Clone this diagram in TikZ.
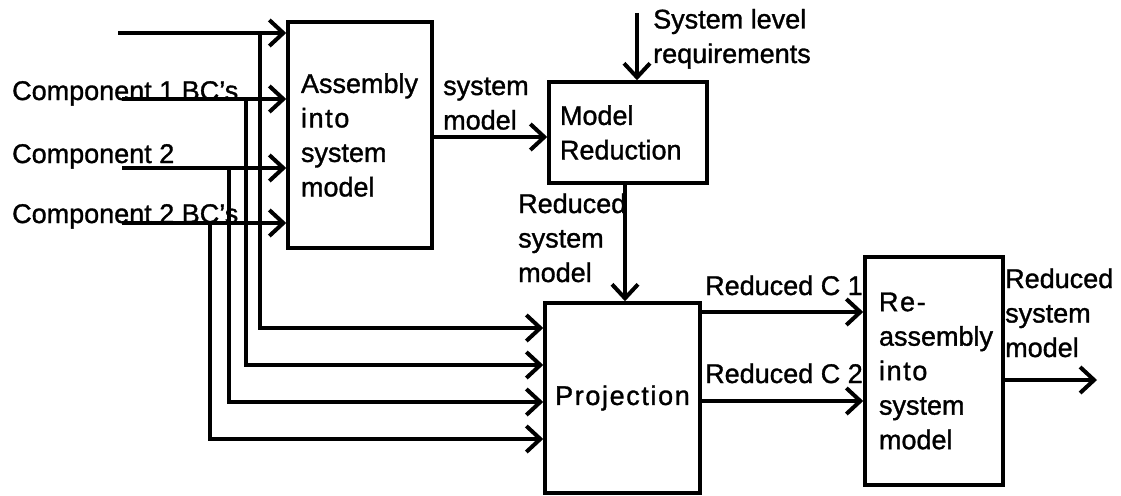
\documentclass[tikz,border=0pt]{standalone}
\usepackage{fontspec}
\setmainfont[FakeBold=1.2]{Liberation Sans}
\newfontfamily\spc[LetterSpace=6,FakeBold=1.2]{Liberation Sans}
\usetikzlibrary{arrows.meta}
\begin{document}
\begin{tikzpicture}[x=1pt,y=-1pt,
  every node/.style={font=\fontsize{27}{34.5}\selectfont},
  box/.style={draw,line width=3.5pt,rectangle,inner sep=0pt,align=left},
  lbl/.style={inner sep=0pt,align=left,anchor=base west},
  arr/.style={line width=3.2pt,-{Straight Barb[length=14pt,width=26pt,line width=4pt]}}]
\useasboundingbox (0,0) rectangle (1121,495);

% process boxes
\node[box,minimum width=144pt,minimum height=226pt,text width=118pt] (asm) at (360,135)
  {Assembly\\{\spc into}\\system\\model};
\node[box,minimum width=158pt,minimum height=101pt,text width=136pt] (mr) at (628,132.5)
  {Model\\Reduction};
\node[box,minimum width=155pt,minimum height=190pt,align=center] (proj) at (622.5,398)
  {\spc Projection};
\node[box,minimum width=138pt,minimum height=228pt,text width=110pt] (ra) at (934,371)
  {{\spc Re-}\\assembly\\{\spc into}\\system\\model};

% labels (anchored at the baseline of their last line)
\node[lbl] (l1) at (12,100) {Component 1 BC's};
\node[lbl] (l2) at (12,163) {Component 2};
\node[lbl] (l3) at (12,223) {Component 2 BC's};
\node[lbl] (lsm) at (443,129.5) {system\\model};
\node[lbl] (lreq) at (653,63) {System level\\requirements};
\node[lbl] (lrsm) at (518,282) {Reduced\\system\\model};
\node[lbl] (lc1) at (705,295) {Reduced C 1};
\node[lbl] (lc2) at (705,383) {Reduced C 2};
\node[lbl] (lout) at (1005,357) {Reduced\\system\\model};

% input line starts and branch points
\coordinate (in0) at (118,33);
\coordinate (in1) at (122,99);
\coordinate (in2) at (122,168);
\coordinate (in3) at (122,223);
\coordinate (b0) at (260,33);
\coordinate (b1) at (246,99);
\coordinate (b2) at (229,168);
\coordinate (b3) at (210,223);
\coordinate (j0) at (260,328);
\coordinate (j1) at (246,365);
\coordinate (j2) at (229,402);
\coordinate (j3) at (210,439);

% inputs into the assembly box
\draw[arr] (in0) -- (in0 -| asm.west);
\draw[arr] (in1) -- (in1 -| asm.west);
\draw[arr] (in2) -- (in2 -| asm.west);
\draw[arr] (in3) -- (in3 -| asm.west);

% branches into the projection box
\draw[arr] (b0) -- (j0) -- (j0 -| proj.west);
\draw[arr] (b1) -- (j1) -- (j1 -| proj.west);
\draw[arr] (b2) -- (j2) -- (j2 -| proj.west);
\draw[arr] (b3) -- (j3) -- (j3 -| proj.west);

% system model to reduction
\coordinate (sm) at (0,137);
\draw[arr] (sm -| asm.east) -- (sm -| mr.west);

% requirements
\coordinate (req) at (637,13);
\draw[arr] (req) -- (req |- mr.north);

% reduced system model down to projection
\coordinate (rx) at (625,0);
\draw[arr] (rx |- mr.south) -- (rx |- proj.north);

% reduced components
\coordinate (c1) at (0,312);
\coordinate (c2) at (0,401);
\draw[arr] (c1 -| proj.east) -- (c1 -| ra.west);
\draw[arr] (c2 -| proj.east) -- (c2 -| ra.west);

% output
\coordinate (out) at (1097,380);
\draw[arr] (out -| ra.east) -- (out);
\end{tikzpicture}
\end{document}
